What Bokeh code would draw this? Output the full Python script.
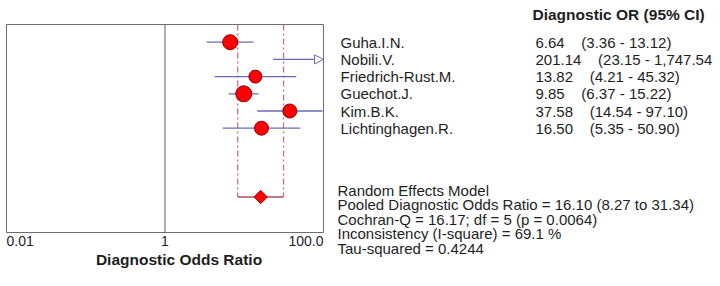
from bokeh.plotting import figure
from bokeh.models import Range1d, Arrow, NormalHead, LinearScale
from bokeh.core.properties import value
from bokeh.embed import file_html
from bokeh.resources import INLINE
import numpy as np

# ---- data ----
studies = ["Guha.I.N.", "Nobili.V.", "Friedrich-Rust.M.", "Guechot.J.", "Kim.B.K.", "Lichtinghagen.R."]
odds = [6.64, 201.14, 13.82, 9.85, 37.58, 16.50]
lower = [3.36, 23.15, 4.21, 6.37, 14.54, 5.35]
upper = [13.12, 1747.54, 45.32, 15.22, 97.10, 50.90]
or_text = ["6.64", "201.14", "13.82", "9.85", "37.58", "16.50"]
ci_text = ["(3.36 - 13.12)", "(23.15 - 1,747.54", "(4.21 - 45.32)", "(6.37 - 15.22)", "(14.54 - 97.10)", "(5.35 - 50.90)"]
weights = [15, 0, 13, 16, 14, 14]  # marker diameters (px)

pooled_or, pooled_lo, pooled_hi = 16.10, 8.27, 31.34
pooled_row = 9

tick_values = [0.01, 1, 100]
tick_labels = ["0.01", "1", "100.0"]
x_title = "Diagnostic Odds Ratio"
header = "Diagnostic OR (95% CI)"
stats = [
    "Random Effects Model",
    "Pooled Diagnostic Odds Ratio = 16.10 (8.27 to 31.34)",
    "Cochran-Q = 16.17; df =  5 (p = 0.0064)",
    "Inconsistency (I-square) = 69.1 %",
    "Tau-squared = 0.4244",
]

FONT = value("Liberation Sans")
FS = "15px"
TXT = "#1e1e1e"
W, H = 720, 286

# layout: plot box spans canvas x 6..323, y 24..232; rows 17.2 px apart from y=41.7
XMIN, XMAX = tick_values[0], tick_values[-1]
BOX_L, BOX_R, BOX_T, BOX_B = 6, 323, 24, 232
PXD = (BOX_R - BOX_L) / (np.log10(XMAX) - np.log10(XMIN))
ROW0, RS = 41.7, 17.2
lx0 = np.log10(XMIN) - BOX_L / PXD
lx1 = np.log10(XMIN) + (W - BOX_L) / PXD
row_of = lambda cy: (cy - ROW0) / RS
box_top, box_bot = row_of(BOX_T), row_of(BOX_B)

p = figure(width=W, height=H, x_axis_type="log", x_range=Range1d(10 ** lx0, 10 ** lx1),
           y_range=Range1d(row_of(H), row_of(0)), x_axis_location=None, y_axis_location=None,
           output_backend="svg", toolbar_location=None,
           min_border=0)
p.xgrid.visible = False
p.ygrid.visible = False
p.outline_line_color = None
p.background_fill_color = "white"
p.border_fill_color = "white"
p.extra_x_ranges = {"px": Range1d(0, W)}
p.extra_x_scales = {"px": LinearScale()}
p.extra_y_ranges = {"px": Range1d(H, 0)}
p.extra_y_scales = {"px": LinearScale()}

# plot box and line of no effect
p.quad(left=[XMIN], right=[XMAX], top=[box_top], bottom=[box_bot],
       fill_color=None, line_color="#6e6e6e", line_width=1)
p.segment(x0=[1], x1=[1], y0=[box_top], y1=[box_bot], line_color="#5a5a5a", line_width=1)

# pooled CI dashed verticals + pooled line
p.segment(x0=[pooled_lo, pooled_hi], x1=[pooled_lo, pooled_hi], y0=[box_top, box_top],
          y1=[pooled_row, pooled_row], line_color="#c0708e", line_width=1.3,
          line_dash="6 3 2 3")
p.segment(x0=[pooled_lo], x1=[pooled_hi], y0=[pooled_row], y1=[pooled_row],
          line_color="#a8505e", line_width=1.3)

# study CIs
CI_COL = "#6a6ab8"
rows = list(range(len(studies)))
seg_x0, seg_x1, seg_y = [], [], []
for i in rows:
    if upper[i] <= XMAX:
        seg_x0.append(lower[i]); seg_x1.append(upper[i]); seg_y.append(i)
    else:
        p.add_layout(Arrow(end=NormalHead(size=9, fill_color="white", line_color=CI_COL, line_width=1),
                           x_start=lower[i], x_end=XMAX, y_start=i, y_end=i,
                           line_color=CI_COL, line_width=1.3))
p.segment(x0=seg_x0, x1=seg_x1, y0=seg_y, y1=seg_y, line_color=CI_COL, line_width=1.3)

# points
px, py, ps = [], [], []
for i in rows:
    if odds[i] <= XMAX:
        px.append(odds[i]); py.append(i); ps.append(weights[i])
p.scatter(x=px, y=py, size=ps, fill_color="#ff0000", line_color="#8a0000", line_width=1)

# pooled diamond
p.scatter(x=[pooled_or], y=[pooled_row], marker="square", angle=np.pi / 4, size=9.5,
          fill_color="#ff0000", line_color="#a00000", line_width=1)

def txt(xs, ys, texts, align="left", bold=False, xr="px", yr="px", size=FS):
    p.text(x=xs, y=ys, text=texts, x_range_name=xr, y_range_name=yr,
           text_font=FONT, text_font_size=size, text_color=TXT, text_align=align,
           text_baseline="middle", text_font_style="bold" if bold else "normal")

# tick labels (x in data via log scale)
for v, t, a in zip(tick_values, tick_labels, ["left", "center", "right"]):
    txt([v], [240.5], [t], align=a, xr="default", size="14px")
txt([178.5], [258.5], [x_title], align="center", bold=True, size="15.5px")

# header
txt([532], [14], [header], bold=True, size="15.5px")

# study names and values (vertically centred on their rows via data y scale)
txt([340] * len(rows), rows, studies, yr="default")
vals = [o + "\u00a0" * 4 + c for o, c in zip(or_text, ci_text)]
txt([535] * len(rows), rows, vals, yr="default")

# stats block
txt([337] * len(stats), [189.5 + 14.6 * k for k in range(len(stats))], stats)

open("out.html", "w").write(file_html(p, INLINE))
